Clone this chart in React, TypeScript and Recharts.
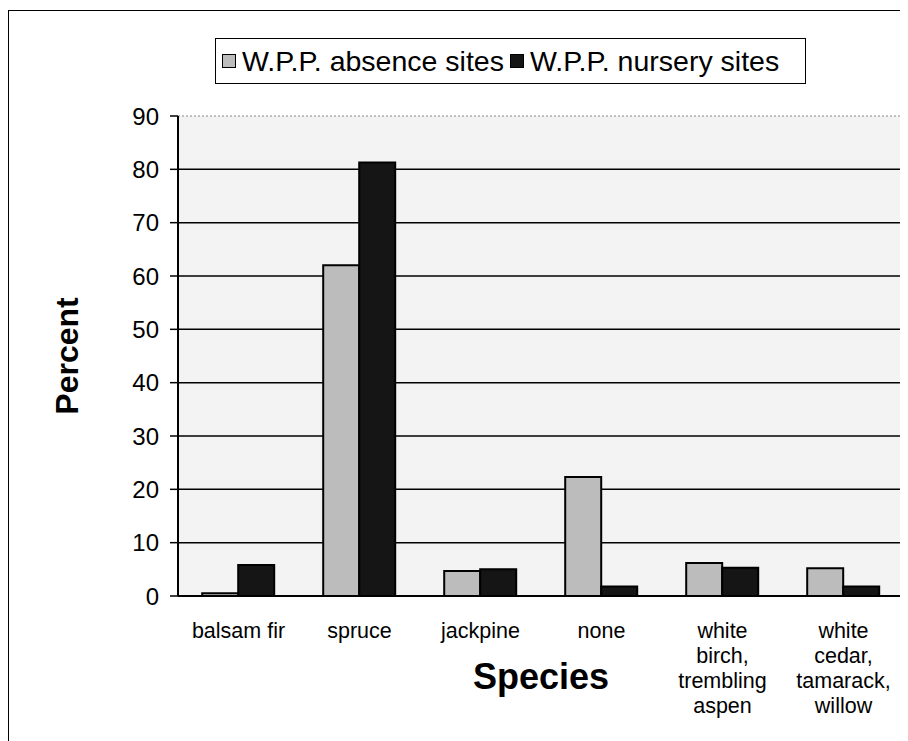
import { BarChart, Bar, XAxis, YAxis, CartesianGrid } from "recharts";

const species = [
  ["balsam fir"],
  ["spruce"],
  ["jackpine"],
  ["none"],
  ["white", "birch,", "trembling", "aspen"],
  ["white", "cedar,", "tamarack,", "willow"],
];
const absenceSites = [0.5, 62, 4.7, 22.3, 6.2, 5.2];
const nurserySites = [5.8, 81.3, 5.0, 1.8, 5.3, 1.8];
const seriesNames = ["W.P.P. absence sites", "W.P.P. nursery sites"];
const yTicks = [0, 10, 20, 30, 40, 50, 60, 70, 80, 90];
const gridValues = [10, 20, 30, 40, 50, 60, 70, 80];
const edgeTicks = [0, 1, 2, 3, 4, 5, 6];

const data = species.map((lines, i) => ({
  name: lines.join(" "),
  lines,
  absence: absenceSites[i],
  nursery: nurserySites[i],
}));

const font = "Arial, 'Liberation Sans', sans-serif";
const absenceFill = "#bcbcbc";
const nurseryFill = "#151515";

function SpeciesTick(props: any) {
  const { x, y, payload } = props;
  const row = data.find((d) => d.name === payload.value);
  const lines = row ? row.lines : [String(payload.value)];
  return (
    <text x={x} y={y} textAnchor="middle" fontSize={21.5} fontFamily={font} fill="#000">
      {lines.map((l, i) => (
        <tspan key={i} x={x} dy={i === 0 ? 32 : 25}>
          {l}
        </tspan>
      ))}
    </text>
  );
}

function LegendBox() {
  const item = (fill: string, label: string) => (
    <span style={{ display: "inline-flex", alignItems: "center", marginRight: 6 }}>
      <span
        style={{
          width: 12,
          height: 12,
          background: fill,
          border: "1.5px solid #000",
          marginRight: 6,
          display: "inline-block",
        }}
      />
      {label}
    </span>
  );
  return (
    <div
      style={{
        position: "absolute",
        left: 207,
        top: 30,
        width: 591,
        boxSizing: "border-box",
        border: "1.5px solid #000",
        background: "#fff",
        height: 46,
        display: "flex",
        alignItems: "center",
        paddingLeft: 6,
        fontFamily: font,
        fontSize: 28.5,
        color: "#000",
        whiteSpace: "nowrap",
      }}
    >
      {item(absenceFill, seriesNames[0])}
      {item(nurseryFill, seriesNames[1])}
    </div>
  );
}

export default function App() {
  return (
    <div style={{ position: "relative", width: 900, height: 733 }}>
      <div
        style={{
          position: "absolute",
          left: 0,
          top: 2,
          width: 900,
          height: 731,
          borderLeft: "1.5px solid #000",
          borderTop: "1.5px solid #000",
          boxSizing: "border-box",
        }}
      />
      <div style={{ position: "absolute", left: 0, top: 0 }}>
        <BarChart
          width={900}
          height={733}
          data={data}
          margin={{ top: 108, right: 4, left: 50, bottom: 15 }}
          barCategoryGap="20%"
          barGap={0}
        >
          <CartesianGrid
            xAxisId="cat"
            vertical={false}
            horizontalValues={gridValues}
            stroke="#000"
            strokeWidth={1.5}
            fill="#f3f3f3"
          />
          <CartesianGrid
            xAxisId="cat"
            vertical={false}
            horizontalValues={[90]}
            stroke="#888"
            strokeDasharray="2 2"
          />
          <XAxis
            xAxisId="edge"
            type="number"
            domain={[0, 6]}
            ticks={edgeTicks}
            height={0}
            tick={false}
            tickSize={8}
            axisLine={false}
            tickLine={{ stroke: "#000", strokeWidth: 1.5 }}
          />
          <XAxis
            xAxisId="cat"
            dataKey="name"
            height={130}
            interval={0}
            tickLine={false}
            tickSize={8}
            tickMargin={2}
            axisLine={{ stroke: "#000", strokeWidth: 2 }}
            tick={<SpeciesTick />}
            label={{
              value: "Species",
              position: "insideBottom",
              offset: 37,
              style: { fontFamily: font, fontSize: 36, fontWeight: "bold", fill: "#000" },
            }}
          />
          <YAxis
            width={120}
            domain={[0, 90]}
            ticks={yTicks}
            interval={0}
            tickSize={8}
            tickMargin={11}
            axisLine={{ stroke: "#000", strokeWidth: 2 }}
            tickLine={{ stroke: "#000", strokeWidth: 1.5 }}
            tick={{ fontFamily: font, fontSize: 24, fill: "#000" }}
            label={{
              value: "Percent",
              angle: -90,
              position: "insideLeft",
              offset: 9,
              style: {
                fontFamily: font,
                fontSize: 32,
                fontWeight: "bold",
                fill: "#000",
                textAnchor: "middle",
              },
            }}
          />
          <YAxis
            yAxisId="edge"
            orientation="right"
            width={0}
            domain={[0, 90]}
            tick={false}
            tickLine={false}
            axisLine={{ stroke: "#333", strokeWidth: 1 }}
          />
          <Bar
            xAxisId="cat"
            dataKey="absence"
            name={seriesNames[0]}
            fill={absenceFill}
            stroke="#000"
            strokeWidth={2}
            isAnimationActive={false}
          />
          <Bar
            xAxisId="cat"
            dataKey="nursery"
            name={seriesNames[1]}
            fill={nurseryFill}
            stroke="#000"
            strokeWidth={2}
            isAnimationActive={false}
          />
        </BarChart>
      </div>
      <LegendBox />
    </div>
  );
}
